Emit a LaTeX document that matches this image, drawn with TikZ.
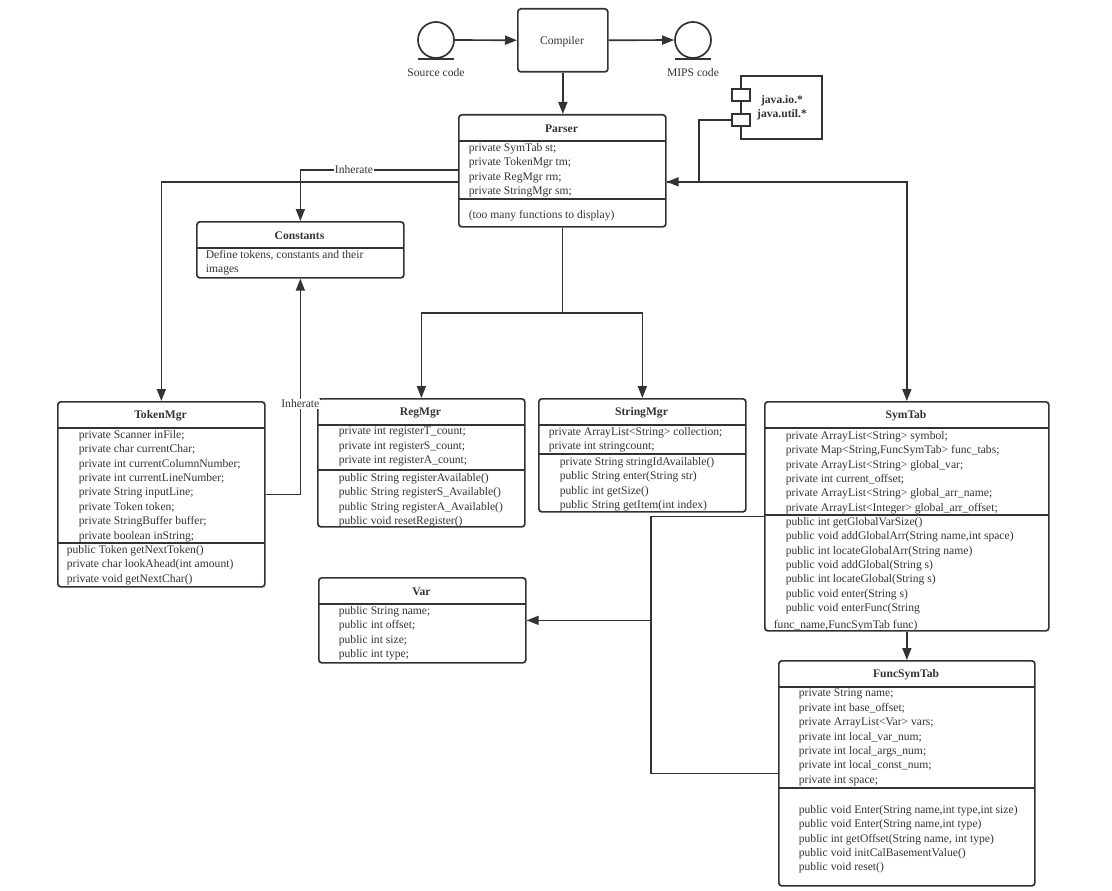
\documentclass[tikz,border=0pt]{standalone}
\usepackage{fontspec}
\setmainfont{Liberation Serif}
\usetikzlibrary{arrows.meta}
\definecolor{ink}{HTML}{333333}

\begin{document}
\begin{tikzpicture}[x=1pt, y=-1pt, color=ink, line width=1.7pt,
    font=\fontsize{11.6}{14.4}\selectfont,
    classbox/.style={draw, rounded corners=3pt, anchor=north west, inner sep=0},
    members/.style={anchor=north west, inner sep=0, yshift=-2pt, align=left, execute at begin node=\strut},
    title/.style={font=\fontsize{11.6}{14.4}\selectfont\bfseries, inner sep=0, yshift=-1.5pt},
    caption/.style={yshift=-1.5pt},
    port/.style={draw, fill=white, anchor=north west, inner sep=0, minimum width=18, minimum height=12},
    datafile/.style={draw, circle, inner sep=0, minimum size=36},
    tag/.style={fill=white, inner sep=1pt},
    link/.style={-{Triangle[length=12pt,width=9pt]}}]
\useasboundingbox (0,0) rectangle (1112,891);

% compiler chain
\node[datafile] (src) at (436,40) {};
\draw ([xshift=-18pt]src.south) -- ([xshift=18pt]src.south);
\node[caption] (srclabel) at (436,71) {Source code};
\node[classbox, minimum width=90, minimum height=63] (compiler) at (517,8) {};
\node[caption] (compilertext) at (562,40) {Compiler};
\node[datafile] (mips) at (693,40) {};
\draw ([xshift=-18pt]mips.south) -- ([xshift=18pt]mips.south);
\node[caption] (mipslabel) at (693,71) {MIPS code};

% java packages
\node[draw, anchor=north west, minimum width=81, minimum height=63] (javapkg) at (740,75) {};
\node[port] (port1) at (731,88) {};
\node[port] (port2) at (731,113) {};
\node[caption, font=\fontsize{11.6}{14.4}\selectfont\bfseries, align=center] (javatext) at (782,106.5) {java.io.*\\java.util.*};

% Parser
\node[classbox, minimum width=207, minimum height=112] (parser) at (458,114) {};
\node[title] (parsertitle) at (561.5,127) {Parser};
\draw (458,141) -- (665,141);
\draw (458,199) -- (665,199);
\node[members] (parserattr) at (468,140.4) {private SymTab st;\\private TokenMgr tm;\\private RegMgr rm;\\private StringMgr sm;};
\node[members] (parserfunc) at (468,205.4) {(too many functions to display)};

% Constants
\node[classbox, minimum width=207, minimum height=56] (constants) at (196,221) {};
\node[title] (conststitle) at (299.5,234) {Constants};
\draw (196,248) -- (403,248);
\node[members] (constsattr) at (205,247.4) {Define tokens, constants and their\\images};

% TokenMgr
\node[classbox, minimum width=207, minimum height=185] (tokenmgr) at (57,401) {};
\node[title] (tokentitle) at (160.5,414) {TokenMgr};
\draw (57,428) -- (264,428);
\draw (57,543) -- (264,543);
\node[members] (tokenattr) at (78,427.4) {private Scanner inFile;\\private char currentChar;\\private int currentColumnNumber;\\private int currentLineNumber;\\private String inputLine;\\private Token token;\\private StringBuffer buffer;\\private boolean inString;};
\node[members] (tokenfunc) at (66,542.4) {public Token getNextToken()\\private char lookAhead(int amount)\\private void getNextChar()};

% RegMgr
\node[classbox, minimum width=207, minimum height=128] (regmgr) at (317,398) {};
\node[title] (regtitle) at (420.5,411) {RegMgr};
\draw (317,425) -- (524,425);
\draw (317,470) -- (524,470);
\node[members] (regattr) at (338,424.4) {private int registerT\_count;\\private int registerS\_count;\\private int registerA\_count;};
\node[members] (regfunc) at (338,470.4) {public String registerAvailable()\\public String registerS\_Available()\\public String registerA\_Available()\\public void resetRegister()};

% StringMgr
\node[classbox, minimum width=207, minimum height=113] (stringmgr) at (538,398) {};
\node[title] (stringtitle) at (641.5,411) {StringMgr};
\draw (538,425) -- (745,425);
\draw (538,454) -- (745,454);
\node[members] (stringattr) at (548,424.4) {private ArrayList<String> collection;\\private int stringcount;};
\node[members] (stringfunc) at (559,454.4) {private String stringIdAvailable()\\public String enter(String str)\\public int getSize()\\public String getItem(int index)};

% SymTab
\node[classbox, minimum width=284, minimum height=229] (symtab) at (764,401) {};
\node[title] (symtitle) at (906,414) {SymTab};
\draw (764,428) -- (1048,428);
\draw (764,515) -- (1048,515);
\node[members] (symattr) at (785,428.4) {private ArrayList<String> symbol;\\private Map<String,FuncSymTab> func\_tabs;\\private ArrayList<String> global\_var;\\private int current\_offset;\\private ArrayList<String> global\_arr\_name;\\private ArrayList<Integer> global\_arr\_offset;};
\node[members] (symfunc) at (785,514.4) {public int getGlobalVarSize()\\public void addGlobalArr(String name,int space)\\public int locateGlobalArr(String name)\\public void addGlobal(String s)\\public int locateGlobal(String s)\\public void enter(String s)\\public void enterFunc(String};
\node[members] (symfunc2) at (773,615.4) {func\_name,FuncSymTab func)};

% Var
\node[classbox, minimum width=207, minimum height=85] (var) at (318,577) {};
\node[title] (vartitle) at (421.5,590) {Var};
\draw (318,604) -- (525,604);
\node[members] (varattr) at (338,603.4) {public String name;\\public int offset;\\public int size;\\public int type;};

% FuncSymTab
\node[classbox, minimum width=256, minimum height=225] (funcsymtab) at (778,660) {};
\node[title] (functitle) at (906,673) {FuncSymTab};
\draw (778,687) -- (1034,687);
\draw (778,788) -- (1034,788);
\node[members] (funcattr) at (798,686.4) {private String name;\\private int base\_offset;\\private ArrayList<Var> vars;\\private int local\_var\_num;\\private int local\_args\_num;\\private int local\_const\_num;\\private int space;};
\node[members] (funcfunc) at (798,802.4) {public void Enter(String name,int type,int size)\\public void Enter(String name,int type)\\public int getOffset(String name, int type)\\public void initCalBasementValue()\\public void reset()};

% connectors
\draw[link] (src) -- (compiler);
\draw[link] (compiler) -- (mips);
\draw[link] (compiler.south) -- (compiler.south |- parser.north);
\draw[link] (port2.west) -- ++(-32,0) |- ([yshift=-11pt]parser.east);
\draw[link] ([yshift=-11pt]parser.east) -| (symtab.north);
\draw[link] ([yshift=-11pt]parser.west) -| (tokenmgr.north);
\draw[link] ([yshift=1pt]parser.west) -| node[tag, pos=0.33] {Inherate} (constants.north);
\draw[link] (parser.south) -- ++(0,85) -| (regmgr.north);
\draw[link] (parser.south) -- ++(0,85) -| (stringmgr.north);
\draw[link] (tokenmgr.east) -| node[tag, pos=0.71] {Inherate} (constants.south);
\draw (funcsymtab.west) -- ++(-127,0) |- (var.east);
\draw[link] (symtab.west) -- ++(-113,0) |- (var.east);
\draw[link] (symtab.south) -- (funcsymtab.north);
\end{tikzpicture}
\end{document}
